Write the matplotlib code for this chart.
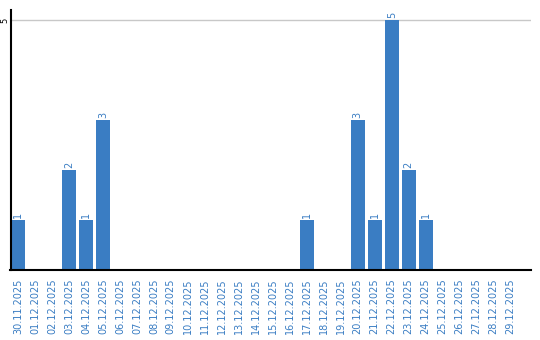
import matplotlib.pyplot as plt

# Daily counts, 30.11.2025 - 29.12.2025
dates = ['30.11.2025'] + ['%02d.12.2025' % d for d in range(1, 30)]
counts = [1, 0, 0, 2, 1, 3, 0, 0, 0, 0,
          0, 0, 0, 0, 0, 0, 0, 1, 0, 0,
          3, 1, 5, 2, 1, 0, 0, 0, 0, 0]

blue = '#3a7dc3'

fig = plt.figure(figsize=(5.4, 3.4), dpi=100)
ax = fig.add_axes([10.5 / 540, 70 / 340, 520.5 / 540, 260 / 340])

x = list(range(len(dates)))
ax.bar(x, counts, width=0.82, color=blue, zorder=2)

# value labels above non-empty bars
for i, c in enumerate(counts):
    if c > 0:
        ax.text(i, c + 0.04, str(c), rotation=90, ha='center', va='bottom',
                color=blue, fontsize=7)

ax.set_xlim(-0.44, 30.2)
ax.set_ylim(0, 5.2)
ax.set_yticks([5])
ax.set_yticklabels(['5'], rotation=90, va='center', fontsize=6)
ax.yaxis.grid(True, color='#c8c8c8', linewidth=1, zorder=0)
ax.tick_params(axis='y', length=0, pad=0.5)

ax.set_xticks(x)
ax.set_xticklabels(dates, rotation=90, fontsize=7, color=blue)
ax.tick_params(axis='x', length=0, pad=6)

for side in ['top', 'right']:
    ax.spines[side].set_visible(False)
ax.spines['left'].set_linewidth(1.5)
ax.spines['bottom'].set_linewidth(1.5)

plt.savefig('out.png', dpi=100)
